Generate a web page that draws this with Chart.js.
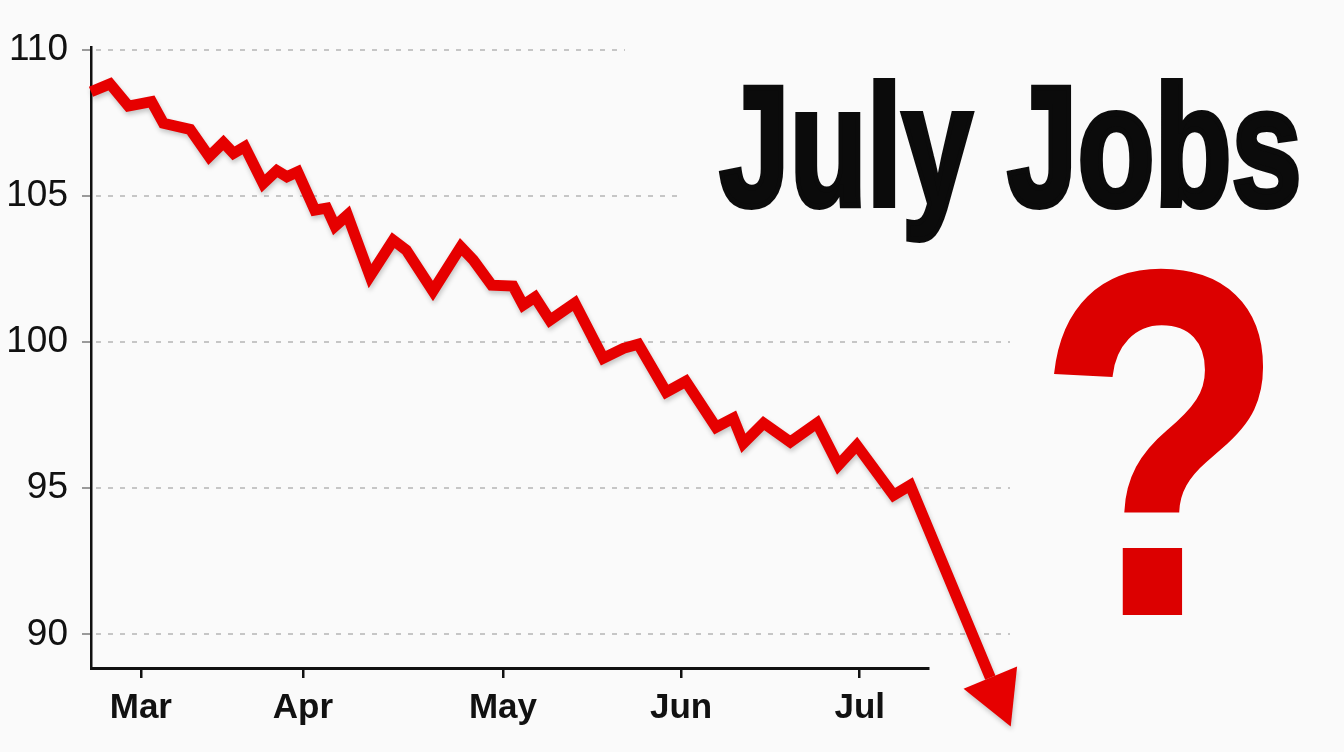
<!DOCTYPE html>
<html><head><meta charset="utf-8">
<script src="https://cdn.jsdelivr.net/npm/chart.js@4/dist/chart.umd.min.js"></script>
<style>html,body{margin:0;padding:0;background:#fafafa;overflow:hidden}#wrap{width:1344px;height:752px;position:relative}</style>
</head><body><div id="wrap"><canvas id="c" width="1344" height="752"></canvas></div>
<script>
// ---- data ----
const titleText = "July Jobs";
const markText = "?";
const monthLabels = ["Mar", "Apr", "May", "Jun", "Jul"];
const monthTicks = [8.4, 35.7, 69.4, 99.4, 129.5];   // position of month starts on the day axis
const yTicks = [90, 95, 100, 105, 110];
const days = [0, 3.2, 6.3, 10.2, 12.2, 16.7, 19.9, 22.3, 24.0, 25.9, 29.0, 31.3, 33.0, 34.8, 37.7, 39.7, 41.1, 43.2,
  47.0, 50.9, 53.1, 57.6, 62.3, 64.4, 67.5, 71.1, 72.8, 74.8, 77.3, 81.5, 86.3, 89.7, 92.2, 96.9, 100.2, 105.3,
  108.2, 109.9, 113.3, 117.8, 122.3, 125.9, 129.0, 135.2, 138.0, 151.5];
const jobs = [108.57, 108.84, 108.08, 108.23, 107.49, 107.28, 106.35, 106.83, 106.46, 106.69, 105.43, 105.87, 105.66,
  105.83, 104.52, 104.59, 103.97, 104.35, 102.26, 103.49, 103.15, 101.75, 103.26, 102.81, 101.95, 101.92, 101.27,
  101.54, 100.75, 101.34, 99.45, 99.79, 99.93, 98.29, 98.66, 97.09, 97.40, 96.54, 97.23, 96.58, 97.23, 95.79,
  96.47, 94.76, 95.10, 88.52];

// ---- style ----
const RED = '#e60000';
const narrow = "'Liberation Sans Narrow', 'Liberation Sans', Arial, sans-serif";
const gridEnds = [1010, 1010, 1010, 678, 625]; // right end of each dotted grid line (px), same order as yTicks

const bgPlugin = {
  id: 'bg',
  beforeDraw(chart) {
    const ctx = chart.ctx;
    ctx.save(); ctx.fillStyle = '#fafafa'; ctx.fillRect(0, 0, chart.width, chart.height); ctx.restore();
  }
};

const gridPlugin = {
  id: 'dotgrid',
  beforeDatasetsDraw(chart) {
    const ctx = chart.ctx, ys = chart.scales.y, left = chart.chartArea.left;
    ctx.save();
    ctx.strokeStyle = '#c6c6c6'; ctx.lineWidth = 2; ctx.setLineDash([5, 7]);
    yTicks.forEach((v, i) => {
      const py = Math.round(ys.getPixelForValue(v));
      ctx.beginPath(); ctx.moveTo(left + 5, py); ctx.lineTo(gridEnds[i], py); ctx.stroke();
    });
    ctx.restore();
  }
};

const arrowPlugin = {
  id: 'arrow',
  beforeDatasetDraw(chart) {
    const ctx = chart.ctx;
    ctx.save();
    ctx.shadowColor = 'rgba(0,0,0,0.22)'; ctx.shadowBlur = 5; ctx.shadowOffsetX = 1; ctx.shadowOffsetY = 3;
  },
  afterDatasetDraw(chart, args) {
    const ctx = chart.ctx, pts = args.meta.data, n = pts.length;
    const a = pts[n - 2], b = pts[n - 1];
    const dx = b.x - a.x, dy = b.y - a.y, L = Math.hypot(dx, dy);
    const ux = dx / L, uy = dy / L, px = -uy, py = ux;
    const len = 53, hw = 29;
    ctx.fillStyle = RED;
    ctx.beginPath();
    ctx.moveTo(b.x + ux * len, b.y + uy * len);
    ctx.lineTo(b.x + px * hw, b.y + py * hw);
    ctx.lineTo(b.x - px * hw, b.y - py * hw);
    ctx.closePath(); ctx.fill();
    ctx.restore();
  }
};

function fitText(ctx, text, font, color, box, sw) {
  const h = sw / 2;
  const top = box.top + h, base = box.base - h, left = box.left + h, right = box.right - h;
  ctx.save();
  ctx.font = font(100);
  let m = ctx.measureText(text);
  const size = 100 * (base - top) / m.actualBoundingBoxAscent;
  ctx.font = font(size);
  m = ctx.measureText(text);
  const inkW = m.actualBoundingBoxLeft + m.actualBoundingBoxRight;
  const sx = (right - left) / inkW;
  ctx.fillStyle = color; ctx.strokeStyle = color; ctx.lineWidth = sw; ctx.lineJoin = 'miter';
  ctx.textAlign = 'left'; ctx.textBaseline = 'alphabetic';
  ctx.translate(left, base); ctx.scale(sx, 1);
  ctx.fillText(text, m.actualBoundingBoxLeft, 0);
  if (sw > 0) ctx.strokeText(text, m.actualBoundingBoxLeft, 0);
  ctx.restore();
}

const textPlugin = {
  id: 'bigtext',
  afterDraw(chart) {
    const ctx = chart.ctx;
    fitText(ctx, titleText, s => `bold ${s}px ${narrow}`, '#0b0b0b', {left: 718, right: 1300, top: 78, base: 208}, 6);
    fitText(ctx, markText, s => `bold ${s}px 'Liberation Sans', Arial, sans-serif`, '#dc0000', {left: 1048, right: 1267, top: 263, base: 615}, 2);
  }
};

new Chart(document.getElementById('c'), {
  type: 'line',
  data: {
    datasets: [{
      data: days.map((d, i) => ({x: d, y: jobs[i]})),
      borderColor: RED, borderWidth: 11, pointRadius: 0, tension: 0,
      borderJoinStyle: 'miter', borderCapStyle: 'butt', clip: false, fill: false
    }]
  },
  options: {
    responsive: false, animation: false, devicePixelRatio: 1,
    layout: {padding: {top: 47, right: 416, bottom: 0, left: 0}},
    plugins: {legend: {display: false}, tooltip: {enabled: false}, title: {display: false}},
    scales: {
      x: {
        type: 'linear', min: 0, max: 141, position: 'bottom',
        border: {display: true, color: '#111', width: 3},
        grid: {drawOnChartArea: false, drawTicks: true, tickLength: 10, color: '#111', lineWidth: 2.5},
        ticks: {
          color: '#111', padding: 9, autoSkip: false, maxRotation: 0,
          font: {family: narrow, size: 35, weight: 'bold'},
          callback: v => { const i = monthTicks.indexOf(v); return i >= 0 ? monthLabels[i] : ''; }
        },
        afterBuildTicks: s => { s.ticks = monthTicks.map(v => ({value: v})); },
        afterFit: s => { s.height = 84; }
      },
      y: {
        type: 'linear', min: 88.85, max: 110.1,
        border: {display: true, color: '#111', width: 2.5},
        grid: {drawOnChartArea: false, drawTicks: true, tickLength: 9, color: '#9a9a9a', lineWidth: 2},
        ticks: {color: '#111', padding: 14, font: {family: narrow, size: 37, weight: 'normal'}},
        afterBuildTicks: s => { s.ticks = yTicks.map(v => ({value: v})); },
        afterFit: s => { s.width = 91; }
      }
    }
  },
  plugins: [bgPlugin, gridPlugin, arrowPlugin, textPlugin]
});
</script>
</body></html>
